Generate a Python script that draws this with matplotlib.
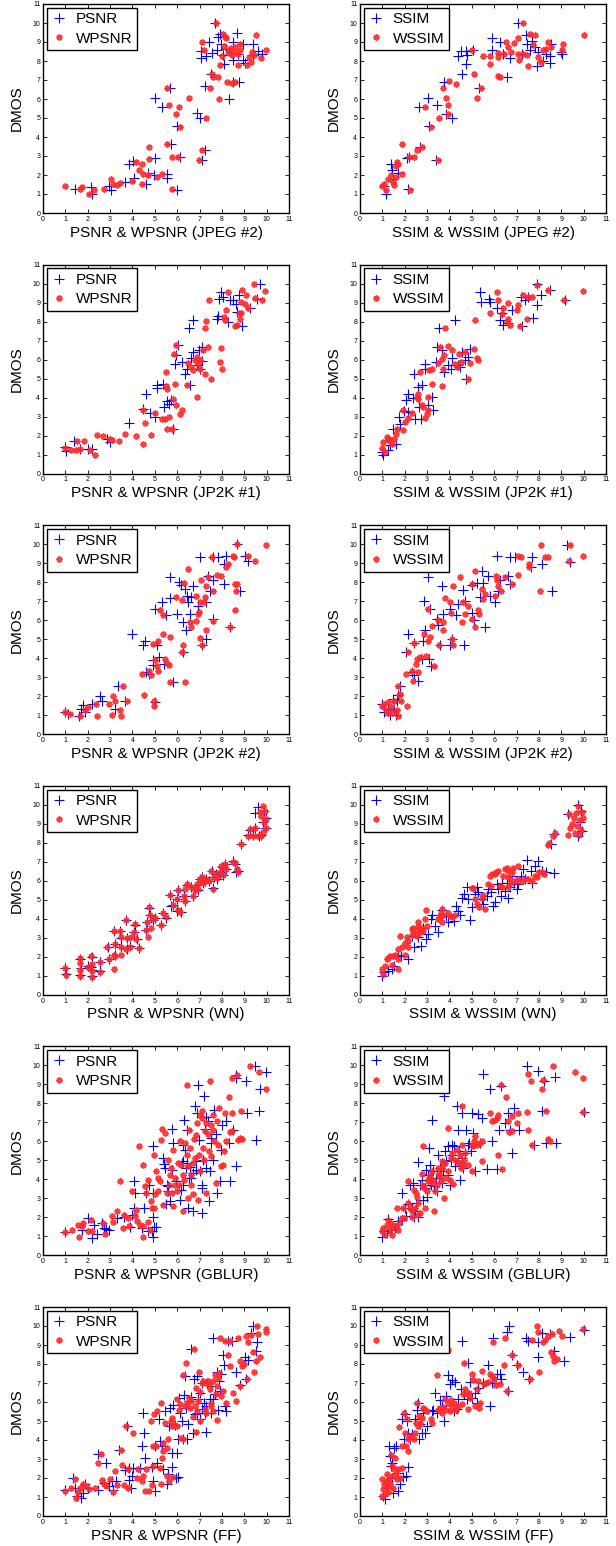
import matplotlib
matplotlib.use("Agg")
import matplotlib.pyplot as plt

plt.rcParams['font.family'] = ['Liberation Sans', 'DejaVu Sans']

# ---- JPEG #2 ----
jpeg2_psnr = [(1.44,1.25),(2.14,1.37),(2.19,0.98),(2.93,1.44),(3.03,1.23),(3.83,2.6),(4.04,2.74),(4.07,1.84),
              (3.67,1.63),(4.59,1.53),(4.7,2.09),(4.96,2.0),(5.01,2.88),(5.56,2.05),(5.56,1.86),(5.97,1.23),
              (5.01,6.05),(5.3,5.58),(5.7,6.6),(5.73,3.61),(5.97,4.56),(6.12,2.95),(6.87,5.26),(7.01,5.02),
              (7.12,2.81),(7.24,3.3),(7.07,8.18),(7.07,8.53),(7.31,8.25),(7.26,6.68),(7.43,9.0),(7.49,7.33),
              (7.56,8.4),(7.76,8.56),(7.68,10.0),(7.83,9.26),(7.9,9.4),(7.96,8.88),(8.03,8.3),(8.09,7.86),
              (8.2,8.63),(8.5,8.07),(8.5,6.9),(8.75,6.9),(8.32,6.0),(8.69,9.47),(8.72,8.39),(8.95,8.04),
              (9.02,7.88),(9.39,8.3),(9.61,8.53),(9.39,8.91),(9.78,8.39),(8.5,9.0),(8.95,8.91)]
jpeg2_wpsnr = [(1.0,1.4),(1.66,1.28),(1.74,1.37),(2.04,0.98),(2.29,1.19),(2.73,1.25),(3.05,1.81),(3.15,1.54),
               (3.33,1.49),(3.45,1.58),(3.97,1.68),(4.16,2.7),(4.31,2.25),(4.42,2.6),(4.42,1.54),(4.46,2.07),
               (4.71,1.98),(4.74,3.47),(4.75,2.84),(5.08,1.89),(5.3,2.07),(5.56,3.61),(5.56,6.6),(5.63,5.68),
               (5.79,2.95),(5.79,1.25),(5.93,5.23),(6.05,2.95),(6.09,5.58),(6.12,4.53),(6.51,6.04),(6.97,2.81),
               (7.12,3.33),(7.28,5.02),(7.1,9.0),(7.19,8.56),(7.46,6.6),(7.56,7.3),(7.61,7.16),(7.73,10.0),
               (7.83,7.16),(7.86,6.0),(7.9,7.77),(8.05,9.44),(8.13,9.26),(8.1,8.8),(8.25,8.6),(8.3,8.4),
               (8.4,8.7),(8.45,8.3),(8.55,8.5),(8.6,8.75),(8.7,8.35),(8.8,8.6),(8.2,9.2),(8.23,6.9),
               (8.43,6.84),(8.57,6.9),(8.72,7.77),(8.8,8.91),(9.1,7.77),(9.2,8.21),(9.32,7.95),(9.35,8.45),
               (9.45,8.3),(9.54,9.35),(9.99,8.6),(9.75,8.18),(8.0,8.25)]
jpeg2_ssim = [(1.09,1.42),(1.15,1.02),(1.39,2.6),(1.42,2.25),(1.49,1.77),(1.71,2.09),(2.09,2.91),(2.19,2.95),
              (2.16,1.25),(2.62,5.58),(2.68,3.47),(3.03,6.05),(3.09,4.56),(3.4,2.81),(3.46,5.67),(3.76,6.9),
              (3.83,5.23),(4.13,5.02),(4.4,8.26),(4.52,8.53),(4.58,7.33),(4.72,8.53),(4.72,7.82),(4.8,8.3),
              (5.07,8.56),(5.32,6.6),(5.89,9.23),(5.89,8.6),(6.27,9.0),(6.38,8.39),(6.59,7.16),(6.71,8.18),
              (7.08,10.0),(7.23,8.39),(7.41,9.37),(7.46,8.91),(7.61,8.6),(7.68,9.05),(7.83,8.74),(7.9,7.74),
              (7.98,8.47),(8.2,8.0),(8.3,8.39),(8.5,7.89),(8.5,8.26),(8.54,8.88),(9.02,8.39),(9.0,8.5)]
jpeg2_wssim = [(1.0,1.42),(1.09,1.54),(1.15,1.23),(1.27,1.81),(1.37,1.98),(1.49,1.63),(1.54,1.46),(1.6,1.89),
               (1.64,2.68),(1.7,2.6),(1.6,2.5),(1.86,2.07),(1.89,3.61),(2.21,2.95),(2.24,1.23),(2.41,2.95),
               (2.53,3.3),(2.76,3.47),(2.91,5.58),(3.16,4.53),(3.5,2.81),(3.55,5.02),(3.73,6.6),(3.83,6.05),
               (3.95,5.67),(3.95,5.23),(3.99,6.93),(4.28,6.81),(5.02,8.56),(5.11,7.33),(5.22,6.05),(5.41,6.6),
               (5.51,8.26),(5.81,8.26),(5.81,7.82),(6.15,8.42),(6.18,8.21),(6.15,7.19),(6.25,7.16),(6.45,8.39),
               (6.53,9.0),(6.63,8.74),(6.75,8.47),(6.9,8.95),(7.05,9.23),(7.05,8.39),(7.11,8.07),(7.27,10.0),
               (7.3,8.39),(7.45,8.3),(7.5,7.74),(7.6,9.44),(7.75,8.82),(7.83,9.35),(7.98,8.21),(8.09,7.95),
               (8.17,8.56),(8.3,8.65),(8.42,9.0),(8.54,8.74),(9.02,8.6),(9.09,8.88),(10.0,9.35)]

# ---- JP2K #1 ----
jp2k1_psnr = [(1.0,1.4),(1.03,1.18),(1.4,1.72),(1.66,1.32),(1.99,1.32),(2.19,1.28),(2.88,1.84),(3.0,1.67),
              (3.86,2.67),(4.59,4.18),(4.46,3.42),(4.79,3.19),(5.01,2.98),(5.11,4.65),(5.11,4.53),(5.38,4.74),
              (5.41,3.51),(5.53,3.82),(5.65,3.65),(5.71,3.89),(5.82,2.37),(5.9,5.79),(5.94,6.23),(6.05,6.75),
              (6.2,5.88),(6.35,5.26),(6.45,5.53),(6.52,7.68),(6.57,4.65),(6.6,6.1),(6.69,8.07),(6.69,6.4),
              (6.87,5.7),(6.98,6.52),(7.04,5.53),(7.09,6.67),(7.12,5.9),(7.79,8.16),(7.83,8.28),(7.87,9.21),
              (7.98,9.56),(8.05,9.3),(8.28,7.98),(8.35,9.12),(8.5,9.12),(8.65,8.95),(8.68,8.51),(8.77,9.39),
              (8.92,7.75),(9.27,8.74),(9.57,9.21),(9.69,10.0)]
jp2k1_wpsnr = [(1.0,1.37),(1.25,1.23),(1.49,1.23),(1.52,1.72),(1.66,1.32),(1.84,1.72),(2.11,1.26),(2.33,1.0),
               (2.41,2.02),(2.67,2.0),(3.0,1.84),(3.09,1.79),(3.42,1.72),(3.67,2.11),(4.16,2.0),(4.49,1.58),
               (4.49,3.37),(4.56,2.67),(4.81,2.02),(5.01,3.19),(5.3,2.89),(5.45,2.89),(5.5,5.35),(5.5,4.6),
               (5.53,4.47),(5.53,2.35),(5.63,2.98),(5.78,2.33),(5.82,3.95),(5.85,6.28),(5.9,4.74),(5.93,6.75),
               (5.94,3.6),(6.12,3.16),(6.21,3.33),(6.42,4.65),(6.49,5.82),(6.64,5.61),(6.72,5.44),(6.79,5.96),
               (6.87,4.04),(6.89,6.14),(6.94,5.79),(7.04,5.53),(7.0,6.0),(7.16,6.49),(7.24,5.23),(7.24,7.67),
               (7.27,8.03),(7.39,6.67),(7.43,9.16),(7.49,5.0),(7.95,6.61),(8.01,5.53),(7.91,5.86),(8.09,8.25),
               (8.15,8.07),(8.2,8.63),(8.28,9.56),(8.6,7.75),(8.68,7.81),(8.77,8.46),(8.83,8.16),(8.87,8.46),
               (8.87,9.03),(8.9,9.65),(9.02,8.9),(9.09,9.39),(9.17,8.72),(9.42,10.0),(9.48,9.26),(9.79,9.12),
               (9.94,9.61)]
jp2k1_ssim = [(0.97,1.14),(1.04,0.96),(1.27,1.23),(1.34,1.49),(1.49,2.37),(1.6,1.58),(1.74,2.98),(1.79,2.63),
              (1.97,3.3),(2.04,3.89),(2.13,4.21),(2.16,3.25),(2.43,5.23),(2.38,3.98),(2.46,2.89),(2.61,4.56),
              (2.65,3.51),(2.73,2.89),(2.76,4.65),(2.91,5.79),(2.91,5.53),(3.03,3.6),(3.2,4.04),(3.28,3.33),
              (3.38,5.88),(3.43,6.67),(3.55,7.68),(3.68,6.49),(3.77,5.35),(3.95,5.7),(4.07,5.53),(4.1,6.1),
              (4.25,8.07),(4.37,5.7),(4.47,5.61),(4.58,6.4),(4.69,5.96),(4.74,5.0),(4.81,6.14),(4.92,6.58),
              (5.37,9.56),(5.41,9.03),(5.77,9.21),(5.81,9.03),(6.11,8.74),(6.26,8.1),(6.33,8.46),(6.41,7.81),
              (6.63,7.93),(6.81,8.63),(7.2,9.3),(7.23,7.75),(7.38,9.16),(7.53,9.3),(7.75,8.18),(7.9,8.88),
              (8.09,9.39),(8.5,9.68),(9.17,9.16),(7.9,10.0)]
jp2k1_wssim = [(1.0,1.37),(1.04,1.67),(1.12,1.14),(1.19,1.93),(1.24,1.75),(1.3,1.84),(1.45,1.54),(1.54,1.84),
               (1.6,2.11),(1.64,2.37),(1.94,2.28),(1.94,3.37),(2.01,2.72),(2.16,2.93),(2.31,3.19),(2.53,4.04),
               (2.58,3.95),(2.61,4.21),(2.68,5.35),(2.76,3.6),(2.83,3.51),(2.91,2.95),(2.98,3.16),(3.03,4.04),
               (3.06,3.33),(3.09,5.44),(3.2,5.53),(3.23,4.7),(3.5,5.82),(3.58,6.67),(3.65,4.6),(3.68,6.05),
               (3.73,5.53),(3.77,6.23),(3.8,7.68),(3.95,6.72),(4.13,6.53),(4.25,5.79),(4.32,5.61),(4.43,6.31),
               (4.52,5.88),(4.69,6.4),(4.81,5.0),(4.92,5.82),(5.11,6.58),(5.14,8.07),(5.22,6.1),(5.29,6.0),
               (5.81,8.46),(6.11,9.56),(6.18,9.12),(6.36,8.42),(6.41,8.74),(6.56,7.98),(6.6,9.0),(6.63,8.16),
               (6.71,7.81),(7.03,8.63),(7.05,8.88),(7.15,7.75),(7.3,9.39),(7.53,9.3),(7.45,8.16),(7.7,9.3),
               (7.9,9.95),(8.39,9.68),(9.14,9.12),(9.99,9.61)]

# ---- JP2K #2 ----
jp2k2_psnr = [(1.0,1.19),(1.14,1.07),(1.59,0.98),(1.71,1.33),(1.78,1.54),(1.89,1.16),(2.18,1.6),(2.56,2.0),
              (2.63,1.77),(3.22,1.33),(3.37,2.56),(3.67,1.77),(3.97,5.28),(4.49,4.7),(4.56,4.93),(4.61,3.26),
              (4.76,3.18),(4.9,3.65),(4.93,3.93),(5.0,1.72),(5.0,6.6),(5.08,4.67),(5.2,4.04),(5.31,6.98),
              (5.41,3.7),(5.5,6.25),(5.68,8.26),(5.7,7.16),(5.8,2.77),(5.97,6.33),(6.09,7.99),(6.15,7.86),
              (6.24,4.32),(6.24,5.89),(6.34,7.65),(6.39,5.46),(6.42,7.26),(6.49,6.95),(6.57,6.33),(6.64,7.21),
              (6.72,7.82),(6.94,6.77),(7.01,9.32),(7.09,4.67),(7.28,5.02),(7.31,6.95),(7.39,8.33),(7.46,7.54),
              (7.61,8.09),(7.61,6.04),(7.58,9.32),(7.83,9.32),(8.08,8.96),(8.17,9.4),(8.08,7.91),(8.35,5.63),
              (8.69,10.0),(8.83,7.56),(9.02,9.37),(9.17,9.09)]
jp2k2_wpsnr = [(1.0,1.19),(1.19,1.07),(1.66,0.98),(1.89,1.3),(1.99,1.42),(2.38,1.6),(2.41,0.98),(2.97,1.6),
               (3.08,1.02),(3.15,2.0),(3.22,1.77),(3.45,1.3),(3.48,0.95),(3.57,2.53),(3.74,1.74),(4.42,3.18),
               (4.53,2.07),(4.76,3.35),(4.82,3.12),(4.9,4.75),(4.96,1.77),(4.96,1.51),(5.0,3.93),(5.08,3.61),
               (5.16,4.88),(5.16,3.32),(5.23,6.54),(5.35,5.28),(5.38,6.25),(5.45,3.96),(5.53,3.75),(5.64,3.65),
               (5.68,5.1),(5.7,2.77),(5.94,7.21),(6.2,7.04),(6.2,4.32),(6.3,7.96),(6.27,4.67),(6.37,2.77),
               (6.49,8.67),(6.57,5.89),(6.64,5.63),(6.83,7.3),(6.86,5.98),(6.94,6.33),(6.98,6.42),(7.01,6.95),
               (7.04,5.05),(7.05,8.09),(7.13,4.67),(7.19,6.95),(7.24,7.21),(7.28,7.82),(7.31,5.51),(7.39,8.26),
               (7.55,9.32),(7.58,5.98),(7.58,7.54),(7.79,8.37),(7.98,8.33),(8.2,8.79),(8.28,8.96),(8.38,5.63),
               (8.5,9.4),(8.53,9.32),(8.57,6.56),(8.57,7.91),(8.65,7.54),(8.68,7.88),(8.69,10.0),(9.17,9.37),
               (9.47,9.09),(9.96,9.96)]
jp2k2_ssim = [(1.0,1.6),(1.09,1.16),(1.27,1.33),(1.34,1.02),(1.49,1.86),(1.54,1.3),(1.6,1.02),(1.64,1.77),
              (1.68,2.04),(1.79,2.56),(2.04,4.32),(2.16,5.28),(2.31,3.26),(2.43,4.79),(2.43,3.09),(2.61,2.82),
              (2.76,3.96),(2.83,4.88),(2.88,7.0),(2.91,5.51),(3.06,8.26),(3.09,3.96),(3.13,6.6),(3.17,3.61),
              (3.43,6.04),(3.47,5.77),(3.58,4.67),(3.65,7.82),(3.73,6.33),(4.02,4.67),(4.02,6.6),(4.13,5.02),
              (4.28,6.25),(4.37,6.86),(4.62,7.61),(4.66,4.67),(4.69,7.02),(4.99,7.86),(5.02,6.37),(5.11,6.0),
              (5.22,7.96),(5.37,7.21),(5.44,8.6),(5.51,7.94),(5.59,5.63),(5.74,8.33),(5.81,7.26),(6.04,6.95),
              (6.11,9.4),(6.18,7.56),(6.26,8.09),(6.63,8.33),(6.71,7.91),(6.71,9.32),(6.93,9.32),(7.68,9.32),
              (7.65,8.79),(8.12,8.96),(8.57,7.54),(9.24,9.96),(9.39,9.05)]
jp2k2_wssim = [(1.0,1.51),(1.09,1.6),(1.15,1.3),(1.24,1.12),(1.27,1.68),(1.39,1.42),(1.45,1.12),(1.54,1.77),
               (1.64,1.25),(1.68,2.56),(1.71,0.98),(1.74,2.04),(1.83,1.77),(1.79,2.12),(2.09,1.51),(2.04,3.18),
               (2.13,4.32),(2.31,3.35),(2.38,2.82),(2.43,4.82),(2.49,3.7),(2.53,3.96),(2.58,3.26),(2.68,4.04),
               (2.88,5.28),(2.94,4.09),(3.03,6.6),(3.06,4.93),(3.13,5.1),(3.23,5.68),(3.32,3.61),(3.5,6.0),
               (3.53,4.67),(3.69,5.89),(3.73,5.51),(3.8,7.16),(4.02,6.95),(4.07,6.37),(4.13,5.02),(4.17,7.82),
               (4.17,4.67),(4.47,8.26),(4.55,5.89),(4.62,6.95),(4.69,6.33),(4.84,6.77),(4.99,7.91),(4.99,6.07),
               (5.14,5.63),(5.14,8.6),(5.29,6.54),(5.32,6.33),(5.44,7.65),(5.51,7.12),(5.59,7.38),(6.04,7.3),
               (6.07,8.33),(6.11,8.09),(6.18,7.82),(6.29,7.56),(6.48,8.26),(6.78,7.91),(7.05,8.37),(7.05,9.4),
               (7.2,9.32),(7.56,8.96),(7.56,8.79),(8.05,7.54),(8.09,9.98),(8.27,9.32),(8.42,9.32),(9.35,9.09),
               (9.39,9.96),(9.99,9.4)]

# ---- WN ----
wn_psnr = [(1.0,1.4),(1.04,1.1),(1.66,1.9),(1.7,1.4),(1.66,1.05),(2.0,1.5),(2.14,1.44),(2.18,2.0),
           (2.18,1.3),(2.2,1.0),(2.53,1.75),(2.56,1.25),(2.9,2.5),(2.95,1.9),(3.18,3.35),(3.2,2.1),
           (3.22,2.65),(3.45,3.35),(3.48,3.0),(3.5,2.5),(3.71,3.95),(3.75,2.4),(3.77,3.0),(3.9,2.55),
           (4.05,3.3),(4.12,3.7),(4.2,2.95),(4.3,2.45),(4.6,3.4),(4.67,3.85),(4.75,4.55),(4.8,4.2),
           (4.9,3.95),(5.0,4.05),(5.26,3.7),(5.38,4.3),(5.5,4.05),(5.68,5.25),(5.71,4.67),(5.82,4.75),
           (5.99,4.42),(6.0,5.05),(6.05,5.5),(6.15,4.35),(6.3,5.2),(6.35,4.95),(6.45,5.8),(6.6,5.7),
           (6.72,5.2),(6.8,5.55),(6.87,5.8),(6.94,5.5),(7.01,6.1),(7.1,6.2),(7.16,5.9),(7.25,6.0),
           (7.31,6.1),(7.43,6.0),(7.55,6.5),(7.61,5.6),(7.65,6.2),(7.75,6.35),(7.8,6.1),(7.9,6.45),
           (8.0,6.75),(8.06,6.3),(8.13,6.9),(8.17,6.6),(8.5,7.05),(8.57,6.9),(8.65,6.44),(8.72,6.5),
           (8.87,7.96),(9.17,8.4),(9.27,8.7),(9.39,8.4),(9.47,9.56),(9.5,8.8),(9.61,9.91),(9.65,8.35),
           (9.76,8.4),(9.84,9.1),(9.9,9.7),(9.96,9.3),(9.99,8.8)]
wn_wpsnr = [(1.0,1.4),(1.04,1.05),(1.66,1.96),(1.66,1.67),(1.66,1.3),(1.66,1.0),(1.99,1.44),(2.14,2.05),
            (2.18,1.61),(2.18,1.26),(2.18,0.95),(2.53,1.75),(2.56,1.21),(2.88,2.54),(2.93,1.91),(3.18,3.37),
            (3.18,2.09),(3.18,1.35),(3.22,2.67),(3.22,2.02),(3.45,3.37),(3.48,3.02),(3.48,2.49),(3.48,2.11),
            (3.71,3.95),(3.71,2.4),(3.77,2.98),(3.89,2.53),(3.92,3.02),(4.07,3.28),(4.12,3.72),(4.18,2.96),
            (4.31,2.46),(4.61,3.39),(4.67,3.84),(4.71,3.05),(4.75,4.6),(4.79,4.19),(4.82,3.49),(4.9,3.98),
            (5.01,4.04),(5.26,3.67),(5.38,4.28),(5.5,4.07),(5.68,5.26),(5.82,4.72),(6.0,5.04),(6.05,4.47),
            (6.05,5.53),(6.12,4.37),(6.3,5.21),(6.34,4.95),(6.34,5.56),(6.45,5.82),(6.6,5.68),(6.72,5.21),
            (6.79,5.53),(6.87,5.82),(6.94,5.56),(7.01,6.08),(7.09,6.18),(7.16,5.91),(7.24,6.0),(7.31,6.08),
            (7.43,6.0),(7.53,6.53),(7.61,5.56),(7.64,6.18),(7.73,6.35),(7.79,6.14),(7.91,6.44),(7.98,6.77),
            (8.06,6.32),(8.13,6.86),(8.17,6.6),(8.5,7.0),(8.57,6.93),(8.68,6.6),(8.72,6.47),(8.87,7.96),
            (9.17,8.37),(9.27,8.72),(9.39,8.37),(9.47,8.79),(9.61,8.37),(9.69,9.6),(9.76,8.37),(9.84,9.95),
            (9.87,9.07),(9.91,9.65),(9.96,9.25),(9.99,8.8),(9.84,8.55),(9.76,9.42)]
wn_ssim = [(1.0,1.0),(1.09,1.18),(1.27,1.26),(1.42,1.35),(1.54,1.53),(1.71,2.09),(1.83,2.05),(2.16,1.91),
           (2.34,3.1),(2.43,2.54),(2.61,3.02),(2.73,2.58),(2.83,3.49),(2.94,2.96),(3.06,3.19),(3.17,3.98),
           (3.23,4.19),(3.35,3.63),(3.47,3.28),(3.65,4.47),(3.83,4.16),(3.95,3.81),(4.22,3.89),(4.29,4.68),
           (4.4,4.42),(4.47,4.19),(4.58,5.07),(4.66,5.3),(4.77,5.65),(4.84,5.04),(4.92,3.95),(4.99,4.6),
           (5.14,5.3),(5.22,5.65),(5.29,5.39),(5.44,5.04),(5.51,4.77),(5.66,5.21),(5.74,5.56),(5.86,5.39),
           (5.96,4.68),(6.04,4.86),(6.11,5.82),(6.18,5.56),(6.29,5.21),(6.36,5.91),(6.48,5.47),(6.56,5.91),
           (6.63,5.12),(6.71,5.65),(6.78,6.26),(6.9,5.91),(7.0,5.56),(7.08,5.82),(7.2,6.26),(7.3,6.61),
           (7.38,6.09),(7.45,7.11),(7.65,6.53),(7.68,5.91),(7.83,6.79),(7.98,7.05),(8.12,6.53),(8.3,6.47),
           (8.69,6.4),(8.54,7.96),(8.69,8.46),(9.32,9.51),(9.73,9.98),(9.76,8.37),(9.84,9.07),(9.91,8.63),
           (9.88,9.65)]
wn_wssim = [(1.0,1.35),(1.04,1.09),(1.12,1.53),(1.19,1.88),(1.27,1.96),(1.34,2.05),(1.42,1.56),(1.49,2.05),
            (1.56,2.11),(1.68,1.35),(1.71,1.88),(1.68,2.4),(1.79,3.1),(1.86,2.49),(2.01,2.09),(2.01,2.75),
            (2.09,3.02),(2.13,2.53),(2.16,2.84),(2.31,3.46),(2.34,3.14),(2.38,3.53),(2.43,3.28),(2.53,3.1),
            (2.58,3.63),(2.61,3.84),(2.64,3.46),(2.68,3.28),(2.76,3.53),(2.83,3.35),(2.91,3.98),(2.94,4.47),
            (2.98,3.63),(3.5,3.98),(3.58,4.16),(3.62,4.3),(3.65,3.81),(3.68,4.51),(3.73,4.19),(3.95,4.33),
            (4.02,4.16),(4.1,4.07),(4.25,4.19),(4.99,5.6),(5.07,5.6),(5.14,5.04),(5.22,4.77),(5.32,4.6),
            (5.44,5.12),(5.51,5.25),(5.59,4.51),(5.74,5.82),(5.86,5.74),(5.81,6.23),(5.89,6.35),(6.04,6.35),
            (6.08,6.44),(6.15,6.53),(6.26,5.74),(6.36,5.65),(6.41,6.26),(6.48,6.61),(6.56,6.7),(6.6,6.53),
            (6.6,5.65),(6.63,6.18),(6.71,6.09),(6.75,5.91),(6.78,6.47),(6.86,6.7),(6.96,6.0),(7.05,6.09),
            (7.08,6.79),(7.23,6.0),(7.38,6.09),(7.53,6.09),(7.7,6.0),(7.82,6.26),(7.9,6.18),(8.0,6.47),
            (8.12,6.44),(8.24,6.35),(8.42,7.91),(8.45,8.0),(8.64,8.37),(8.72,8.51),(9.3,8.4),(9.35,9.5),
            (9.4,8.8),(9.5,9.0),(9.55,9.3),(9.6,8.5),(9.65,9.55),(9.7,8.9),(9.76,9.95),(9.8,8.4),
            (9.84,9.2),(9.91,9.6),(9.99,9.33),(9.9,8.7)]

# ---- GBLUR ----
gblur_psnr = [(1.0,1.23),(1.74,1.35),(1.99,1.96),(2.18,0.91),(2.29,1.61),(2.41,1.12),(2.63,1.7),(2.71,1.44),
              (2.82,1.4),(2.97,1.35),(3.33,1.96),(3.63,2.0),(3.89,1.47),(3.97,2.14),(4.07,3.89),(4.07,2.49),
              (4.12,3.28),(4.41,1.44),(4.52,2.49),(4.61,3.28),(4.71,1.26),(4.75,3.72),(4.86,1.3),(4.9,2.0),
              (4.9,5.74),(4.93,0.96),(4.93,3.3),(4.96,1.47),(5.05,1.47),(5.38,5.12),(5.41,4.81),(5.45,4.6),
              (5.5,2.7),(5.53,3.72),(5.6,3.63),(5.6,3.37),(5.68,2.84),(5.75,4.51),(5.79,6.67),(5.82,5.91),
              (5.94,3.89),(6.12,2.93),(6.15,3.46),(6.2,4.86),(6.24,4.95),(6.27,3.72),(6.27,5.82),(6.3,7.14),
              (6.34,5.56),(6.39,4.6),(6.42,4.86),(6.45,6.61),(6.49,2.49),(6.54,4.07),(6.57,4.63),(6.64,4.07),
              (6.69,2.32),(6.72,4.33),(6.79,7.84),(6.86,4.95),(6.86,4.51),(6.89,7.49),(6.94,8.95),(6.98,6.09),
              (7.01,4.42),(7.09,3.72),(7.09,2.23),(7.13,3.54),(7.16,5.04),(7.19,8.37),(7.24,6.67),(7.28,4.6),
              (7.31,7.31),(7.39,7.05),(7.43,2.84),(7.46,4.42),(7.49,6.18),(7.53,5.91),(7.61,5.04),(7.64,7.66),
              (7.73,6.39),(7.79,3.28),(7.91,3.89),(7.98,5.56),(8.02,6.88),(8.17,7.05),(8.32,5.91),(8.35,3.89),
              (8.65,4.68),(8.5,6.61),(8.62,9.51),(8.65,9.33),(9.09,9.16),(9.12,7.49),(9.47,9.98),(9.51,6.09),
              (9.66,7.58),(9.72,8.77),(9.96,9.63)]
gblur_wpsnr = [(1.0,1.23),(1.29,1.35),(1.55,1.61),(1.63,0.95),(1.74,1.53),(1.78,1.7),(1.99,1.26),(2.14,1.88),
               (2.18,1.26),(2.67,1.7),(2.78,1.12),(3.08,2.05),(3.15,1.75),(3.3,2.32),(3.45,3.89),(3.57,1.44),
               (3.63,2.14),(3.82,1.96),(3.86,1.53),(3.97,3.37),(4.12,2.05),(4.18,2.4),(4.22,1.79),(4.31,5.74),
               (4.34,1.61),(4.46,4.74),(4.46,0.95),(4.49,1.53),(4.56,3.63),(4.61,3.28),(4.71,3.98),(4.71,1.75),
               (4.79,1.35),(4.82,2.84),(4.86,2.49),(4.96,2.49),(4.96,5.26),(5.0,3.23),(5.05,4.42),(5.16,4.07),
               (5.16,3.37),(5.23,3.89),(5.27,6.09),(5.3,6.67),(5.38,2.67),(5.45,6.46),(5.53,3.28),(5.6,5.04),
               (5.64,3.72),(5.68,4.25),(5.71,4.6),(5.75,3.28),(5.82,2.58),(5.82,5.56),(5.9,4.07),(5.9,3.72),
               (5.97,3.37),(6.05,4.86),(6.09,3.69),(6.12,6.04),(6.15,4.77),(6.24,4.25),(6.27,2.32),(6.3,3.98),
               (6.34,5.91),(6.42,5.3),(6.45,8.95),(6.49,4.68),(6.49,3.02),(6.54,6.61),(6.57,5.65),(6.6,4.25),
               (6.64,3.72),(6.69,4.86),(6.72,3.23),(6.75,6.14),(6.79,5.12),(6.83,6.32),(6.89,6.96),(6.94,2.93),
               (6.98,5.3),(7.01,4.42),(7.04,7.4),(7.09,7.58),(7.13,7.23),(7.16,5.65),(7.19,5.04),(7.24,6.53),
               (7.28,3.28),(7.31,6.96),(7.39,6.39),(7.43,5.47),(7.46,9.19),(7.49,5.21),(7.53,6.88),(7.58,6.61),
               (7.61,7.4),(7.64,6.0),(7.73,3.81),(7.79,7.05),(7.83,5.82),(7.87,7.75),(7.98,4.72),(8.05,4.77),
               (8.09,5.51),(8.13,7.49),(8.2,6.04),(8.32,8.33),(8.35,6.49),(8.43,7.49),(8.43,6.53),(8.47,9.33),
               (8.68,9.51),(8.72,6.09),(8.8,6.18),(8.87,7.58),(8.92,6.14),(9.27,9.95),(9.66,9.65),(9.96,8.75)]
gblur_ssim = [(1.0,0.95),(1.09,1.26),(1.19,1.18),(1.27,1.93),(1.39,1.35),(1.56,1.44),(1.71,1.82),(1.86,1.88),
              (1.89,3.3),(2.01,2.49),(2.04,2.05),(2.13,2.7),(2.24,3.72),(2.31,2.46),(2.38,3.81),(2.43,2.0),
              (2.46,2.32),(2.49,2.75),(2.58,2.0),(2.61,4.91),(2.68,3.72),(2.76,3.98),(2.83,2.93),(2.91,3.54),
              (2.94,4.51),(2.98,3.1),(3.03,4.25),(3.09,5.65),(3.13,4.77),(3.17,3.72),(3.23,7.14),(3.28,4.42),
              (3.32,3.63),(3.38,4.07),(3.43,3.37),(3.47,5.3),(3.53,4.07),(3.58,4.6),(3.65,3.81),(3.73,4.42),
              (3.77,8.37),(3.8,5.47),(3.83,4.95),(3.92,4.25),(3.95,5.74),(4.02,3.72),(4.07,5.04),(4.1,5.79),
              (4.13,5.3),(4.22,5.74),(4.25,4.68),(4.32,7.84),(4.37,6.61),(4.43,5.47),(4.47,3.98),(4.55,7.49),
              (4.58,5.12),(4.62,4.6),(4.69,5.39),(4.72,6.61),(4.81,5.82),(4.87,5.91),(4.95,5.47),(4.99,7.49),
              (5.07,6.44),(5.14,4.42),(5.29,7.44),(5.37,5.91),(5.44,7.23),(5.51,9.54),(5.66,4.56),(5.81,8.77),
              (5.92,6.0),(6.11,4.56),(6.21,6.61),(6.3,8.89),(6.48,6.96),(6.63,7.49),(6.71,6.61),(6.81,5.39),
              (6.9,7.75),(7.11,6.61),(7.45,9.98),(7.79,5.82),(7.98,9.68),(8.12,7.58),(8.24,9.16),(8.3,5.91),
              (8.72,9.37),(8.75,5.91),(10.03,7.53)]
gblur_wssim = [(1.0,1.26),(1.04,1.44),(1.12,1.05),(1.19,1.61),(1.27,1.88),(1.34,1.35),(1.39,1.7),(1.42,1.05),
               (1.49,1.53),(1.6,1.49),(1.64,2.49),(1.68,1.35),(1.74,1.7),(1.86,1.96),(1.94,2.49),(1.98,1.96),
               (2.13,3.89),(2.16,2.75),(2.24,2.49),(2.31,2.0),(2.34,2.32),(2.43,3.42),(2.46,2.49),(2.49,3.3),
               (2.53,3.1),(2.58,2.14),(2.61,2.75),(2.68,2.23),(2.76,3.72),(2.79,4.28),(2.83,5.74),(2.88,3.54),
               (2.91,2.49),(2.98,3.37),(3.03,3.89),(3.09,4.07),(3.13,4.25),(3.2,4.42),(3.23,3.81),(3.28,3.98),
               (3.32,2.32),(3.35,3.37),(3.43,3.72),(3.5,4.6),(3.53,4.28),(3.58,4.16),(3.62,3.89),(3.65,4.95),
               (3.68,4.6),(3.73,4.86),(3.77,3.02),(3.8,4.86),(3.83,4.07),(3.92,6.7),(3.95,4.42),(4.02,3.98),
               (4.07,5.12),(4.13,5.39),(4.17,3.74),(4.25,5.04),(4.32,5.56),(4.37,4.91),(4.43,4.86),(4.47,5.3),
               (4.52,4.6),(4.55,7.84),(4.58,5.82),(4.62,4.77),(4.66,5.04),(4.69,5.39),(4.81,4.77),(4.99,4.42),
               (5.02,5.82),(5.07,5.74),(5.11,6.0),(5.14,6.26),(5.17,5.91),(5.22,5.82),(5.37,5.91),(5.44,4.95),
               (5.44,6.0),(5.81,7.49),(5.89,7.09),(6.04,7.14),(6.11,7.23),(6.15,7.37),(6.18,5.3),(6.3,8.95),
               (6.36,4.56),(6.51,8.33),(6.6,7.05),(6.66,6.51),(6.78,6.54),(6.81,7.32),(7.0,6.96),(7.05,7.49),
               (7.45,7.54),(7.5,6.61),(7.53,9.56),(7.65,9.16),(7.71,5.82),(8.12,8.77),(8.2,9.25),(8.3,7.58),
               (8.39,6.14),(8.5,6.04),(8.65,9.98),(9.61,9.63),(9.99,9.33),(9.95,7.55)]

# ---- FF ----
ff_psnr = [(1.0,1.37),(1.34,2.02),(1.44,1.49),(1.52,1.05),(1.69,0.96),(1.78,1.23),(1.89,1.67),(1.99,1.49),
           (2.44,1.37),(2.44,3.28),(2.82,2.81),(2.71,1.75),(2.93,1.58),(3.15,1.37),(3.08,1.84),(3.27,1.84),
           (3.42,3.47),(3.67,2.42),(3.77,4.74),(3.86,1.89),(3.86,2.54),(3.92,1.49),(3.97,2.11),(4.04,2.54),
           (4.34,2.54),(4.41,3.68),(4.46,5.4),(4.52,4.39),(4.56,3.07),(4.86,2.6),(4.9,1.84),(5.0,1.32),
           (5.0,3.68),(5.11,2.81),(5.2,5.09),(5.23,3.95),(5.3,3.68),(5.38,2.46),(5.45,5.53),(5.53,1.67),
           (5.6,2.19),(5.65,4.74),(5.68,5.7),(5.75,3.33),(5.75,2.6),(5.82,5.82),(5.9,4.77),(5.94,2.02),
           (5.97,3.33),(6.05,2.07),(6.05,4.04),(6.09,6.23),(6.12,5.44),(6.2,5.0),(6.27,4.04),(6.3,6.35),
           (6.34,7.37),(6.39,5.7),(6.45,4.04),(6.49,4.82),(6.54,6.05),(6.6,8.77),(6.64,6.28),(6.72,4.39),
           (6.75,7.19),(6.79,5.35),(6.87,5.44),(6.89,7.37),(6.94,6.14),(7.01,6.46),(7.04,5.09),(7.09,5.61),
           (7.13,6.98),(7.19,5.96),(7.24,5.44),(7.28,4.42),(7.31,5.79),(7.34,6.98),(7.46,6.14),(7.49,5.44),
           (7.53,6.84),(7.58,9.39),(7.61,6.14),(7.68,6.4),(7.79,7.58),(7.83,5.58),(7.87,7.1),(7.91,6.58),
           (7.98,7.46),(8.05,8.46),(8.09,7.93),(8.13,5.79),(8.2,5.53),(8.28,9.21),(8.43,9.21),(8.65,7.58),
           (8.83,6.89),(9.02,8.39),(9.09,7.23),(9.17,8.21),(9.32,9.61),(9.39,10.0),(9.54,8.68),(9.57,9.16)]
ff_wpsnr = [(1.0,1.32),(1.25,1.49),(1.44,1.93),(1.49,0.96),(1.55,1.26),(1.66,1.49),(1.78,1.67),(1.93,1.58),
            (2.04,1.44),(2.33,1.49),(2.48,2.81),(2.59,3.25),(2.63,1.89),(2.71,1.67),(2.82,1.58),(3.0,1.96),
            (3.12,1.26),(3.22,2.37),(3.3,1.61),(3.48,3.47),(3.52,2.67),(3.63,1.61),(3.71,4.74),(3.82,2.46),
            (3.82,1.49),(4.01,4.39),(4.19,2.02),(4.26,2.46),(4.41,1.84),(4.49,2.11),(4.56,1.32),(4.61,2.46),
            (4.75,1.32),(4.81,5.0),(4.86,1.61),(4.9,3.68),(4.93,2.63),(4.96,5.35),(5.05,3.68),(5.11,5.53),
            (5.23,2.54),(5.26,5.93),(5.26,1.67),(5.3,3.07),(5.35,3.42),(5.38,3.86),(5.45,4.91),(5.53,2.11),
            (5.56,3.6),(5.6,4.04),(5.65,1.84),(5.71,5.0),(5.75,5.18),(5.79,4.74),(5.82,2.07),(5.9,4.77),
            (5.97,4.74),(6.0,6.14),(6.09,5.58),(6.12,5.88),(6.15,4.12),(6.24,4.07),(6.27,7.4),(6.34,5.79),
            (6.39,8.07),(6.45,5.96),(6.54,6.23),(6.57,5.7),(6.64,6.05),(6.72,5.23),(6.75,8.77),(6.79,5.79),
            (6.83,4.42),(6.86,6.75),(6.89,5.53),(6.94,6.05),(6.98,7.58),(7.01,5.0),(7.04,6.53),(7.09,7.02),
            (7.16,7.1),(7.24,5.61),(7.28,7.02),(7.31,5.44),(7.39,7.1),(7.43,6.93),(7.46,6.67),(7.49,5.96),
            (7.53,5.79),(7.58,7.1),(7.61,5.53),(7.68,7.4),(7.73,6.4),(7.76,6.84),(7.79,5.05),(7.83,7.28),
            (7.87,7.54),(7.91,9.39),(7.98,6.32),(8.05,6.58),(8.13,9.21),(8.2,5.93),(8.28,8.46),(8.35,7.89),
            (8.38,9.21),(8.5,6.49),(8.62,6.05),(8.72,9.39),(8.8,6.84),(8.83,8.16),(8.92,7.89),(8.98,7.98),
            (9.07,9.47),(9.12,7.19),(9.17,9.16),(9.32,9.51),(9.39,8.63),(9.42,7.58),(9.51,8.16),(9.57,10.0),
            (9.61,9.56),(9.72,8.39),(9.96,9.68),(9.99,9.86)]
ff_ssim = [(1.04,1.05),(1.12,0.91),(1.19,1.49),(1.27,1.84),(1.3,3.68),(1.34,3.16),(1.39,2.63),(1.42,2.81),
           (1.45,2.02),(1.49,1.23),(1.54,3.6),(1.6,3.68),(1.68,1.32),(1.71,2.28),(1.79,1.67),(1.86,5.12),
           (1.94,2.07),(1.98,4.04),(2.01,5.35),(2.04,2.11),(2.09,5.0),(2.13,2.6),(2.16,4.39),(2.24,4.04),
           (2.31,4.3),(2.46,5.09),(2.53,5.58),(2.61,5.93),(2.64,4.04),(2.68,4.82),(2.76,4.39),(2.83,5.44),
           (2.91,4.39),(2.98,4.74),(3.23,5.53),(3.28,5.58),(3.35,6.49),(3.43,5.44),(3.58,6.1),(3.65,5.79),
           (3.77,5.0),(3.83,6.32),(3.92,7.4),(4.02,6.93),(4.13,7.16),(4.22,5.53),(4.25,7.05),(4.32,5.61),
           (4.4,6.18),(4.52,6.67),(4.58,9.21),(4.66,6.4),(4.77,6.18),(4.84,8.07),(4.92,7.05),(4.99,6.23),
           (5.14,6.49),(5.22,5.96),(5.29,6.75),(5.51,7.02),(5.74,7.93),(5.81,5.79),(5.89,7.02),(5.96,9.39),
           (6.0,7.02),(6.11,7.46),(6.26,7.46),(6.3,7.19),(6.56,9.68),(6.66,10.0),(6.63,6.6),(6.81,8.46),
           (7.0,7.93),(7.3,7.58),(7.41,9.39),(7.53,9.21),(7.56,7.19),(7.98,9.16),(7.95,8.39),(8.15,9.65),
           (8.5,9.56),(8.69,8.68),(9.14,8.16),(9.39,9.44),(10.03,9.79)]
ff_wssim = [(1.0,1.05),(1.0,1.96),(1.04,1.4),(1.09,1.67),(1.12,1.14),(1.15,1.84),(1.19,2.19),(1.24,1.58),
            (1.27,1.26),(1.3,1.93),(1.34,1.67),(1.39,3.19),(1.42,2.11),(1.45,2.63),(1.49,1.49),(1.54,2.49),
            (1.56,3.07),(1.6,2.28),(1.64,1.93),(1.71,2.46),(1.74,4.7),(1.79,2.02),(1.86,3.68),(1.89,2.54),
            (1.98,5.4),(2.01,4.39),(2.04,3.68),(2.09,5.09),(2.13,4.04),(2.16,3.42),(2.24,4.21),(2.43,4.04),
            (2.46,4.35),(2.49,4.91),(2.53,5.93),(2.58,4.74),(2.64,5.26),(2.68,4.91),(2.76,5.18),(2.83,5.7),
            (2.88,5.61),(2.98,5.53),(3.17,5.09),(3.23,4.91),(3.43,7.4),(3.47,5.58),(3.58,5.7),(3.65,5.44),
            (3.73,5.75),(3.8,6.14),(3.83,5.58),(3.92,5.96),(3.95,8.74),(4.02,5.53),(4.07,6.1),(4.13,5.79),
            (4.22,5.96),(4.28,5.58),(4.37,5.79),(4.55,5.88),(4.62,6.4),(4.66,8.07),(4.69,6.67),(4.77,6.4),
            (4.81,5.61),(4.87,6.46),(4.92,6.23),(4.99,7.46),(5.07,7.16),(5.14,5.79),(5.22,6.7),(5.29,7.11),
            (5.32,5.7),(5.37,5.96),(5.44,7.63),(5.56,6.93),(5.62,6.98),(5.74,7.05),(5.81,7.46),(5.92,7.37),
            (5.96,9.16),(6.0,7.19),(6.07,6.88),(6.26,6.93),(6.45,7.93),(6.48,9.39),(6.56,6.6),(6.81,8.46),
            (7.05,7.93),(7.6,7.19),(7.71,9.26),(7.9,10.0),(7.95,9.68),(8.0,7.58),(8.2,9.16),(8.27,9.26),
            (8.39,9.47),(8.54,8.63),(8.6,9.56),(8.64,8.42),(8.69,8.16),(8.79,8.28),(8.9,9.74),(9.05,9.47),
            (9.99,9.82)]

rows = ["JPEG #2", "JP2K #1", "JP2K #2", "WN", "GBLUR", "FF"]
psnr_sets = [jpeg2_psnr, jp2k1_psnr, jp2k2_psnr, wn_psnr, gblur_psnr, ff_psnr]
wpsnr_sets = [jpeg2_wpsnr, jp2k1_wpsnr, jp2k2_wpsnr, wn_wpsnr, gblur_wpsnr, ff_wpsnr]
ssim_sets = [jpeg2_ssim, jp2k1_ssim, jp2k2_ssim, wn_ssim, gblur_ssim, ff_ssim]
wssim_sets = [jpeg2_wssim, jp2k1_wssim, jp2k2_wssim, wn_wssim, gblur_wssim, ff_wssim]

W, H = 616, 1546
fig = plt.figure(figsize=(W / 100, H / 100), dpi=100)


def panel(left_px, top_px, plain, weighted, names, xlabel):
    ax = fig.add_axes([left_px / W, 1 - (top_px + 209) / H, 246 / W, 209 / H])
    px, py = zip(*plain)
    wx, wy = zip(*weighted)
    ax.plot(px, py, linestyle='none', marker='+', color='#0000ff', markersize=6.5,
            markeredgewidth=0.8, label=names[0])
    ax.plot(wx, wy, linestyle='none', marker=(8, 2, 0), color='#ff2a2a', markersize=4.5,
            markeredgewidth=1.1, alpha=0.9, label=names[1])
    ax.set_xlim(0, 11)
    ax.set_ylim(0, 11)
    ax.set_xticks(range(12))
    ax.set_yticks(range(12))
    ax.tick_params(direction='in', top=True, right=True, labelsize=5, length=3,
                   width=0.6, pad=2)
    for s in ax.spines.values():
        s.set_linewidth(1.0)
    ax.set_xlabel(xlabel, fontsize=11, labelpad=2)
    ax.set_ylabel("DMOS", fontsize=11, labelpad=6)
    leg = ax.legend(loc='upper left', fontsize=11, fancybox=False, framealpha=1,
                    edgecolor='black', borderaxespad=0.25, handlelength=1.0,
                    handletextpad=0.6, borderpad=0.3, labelspacing=0.35)
    leg.get_frame().set_linewidth(1.0)


for i, name in enumerate(rows):
    top = 4 + 260.6 * i
    panel(43, top, psnr_sets[i], wpsnr_sets[i], ("PSNR", "WPSNR"),
          "PSNR & WPSNR (%s)" % name)
    panel(360, top, ssim_sets[i], wssim_sets[i], ("SSIM", "WSSIM"),
          "SSIM & WSSIM (%s)" % name)

fig.savefig("out.png", dpi=100)
